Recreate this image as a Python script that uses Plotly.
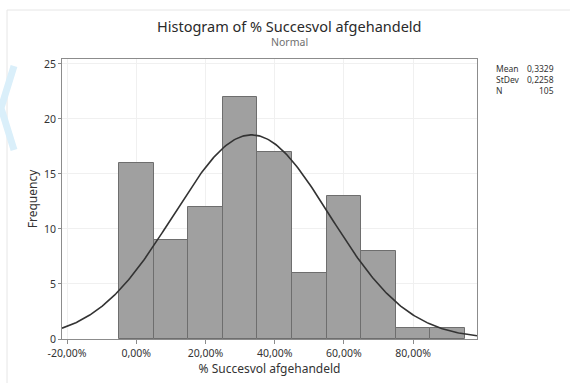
import numpy as np
import plotly.graph_objects as go

# ---- data ----
bin_centers = [0.0, 0.1, 0.2, 0.3, 0.4, 0.5, 0.6, 0.7, 0.8, 0.9]
frequencies = [16, 9, 12, 22, 17, 6, 13, 8, 1, 1]
bin_width = 0.1
stat_mean = 0.3329
stat_sd = 0.2258
stat_n = 105
x_ticks = [-0.2, 0.0, 0.2, 0.4, 0.6, 0.8]
x_ticktext = ["-20,00%", "0,00%", "20,00%", "40,00%", "60,00%", "80,00%"]
y_ticks = [0, 5, 10, 15, 20, 25]

x_range = [-0.2147, 0.9847]
y_range = [0, 25.45]

# normal curve from the summary statistics
xs = np.linspace(x_range[0], x_range[1], 300)
ys = stat_n * bin_width * np.exp(-0.5 * ((xs - stat_mean) / stat_sd) ** 2) / (stat_sd * np.sqrt(2 * np.pi))

FONT = "Noto Sans"
TXT = "#333333"
L, R, T, B, W, H = 62, 93, 59, 44, 570, 383
PW, PH = W - L - R, H - T - B

fig = go.Figure()
fig.add_trace(go.Bar(
    x=bin_centers, y=frequencies, width=[bin_width] * len(bin_centers),
    marker=dict(color="#A0A0A0", line=dict(color="#6E6E6E", width=1)),
    showlegend=False, hoverinfo="x+y",
))
fig.add_trace(go.Scatter(
    x=xs, y=ys, mode="lines", line=dict(color="#333333", width=1.6),
    showlegend=False, hoverinfo="skip",
))

fig.update_layout(
    width=W, height=H,
    margin=dict(l=L, r=R, t=T, b=B),
    paper_bgcolor="white", plot_bgcolor="white",
    font=dict(family=FONT, size=11, color=TXT),
    bargap=0,
    xaxis=dict(
        range=x_range, tickvals=x_ticks, ticktext=x_ticktext,
        showline=True, mirror=True, linecolor="#8C8C8C", linewidth=1,
        ticks="outside", ticklen=4, tickcolor="#8C8C8C",
        showgrid=True, gridcolor="#F0F0F0", zeroline=False,
        tickfont=dict(size=10.5, color=TXT),
        title=dict(text="% Succesvol afgehandeld", font=dict(size=12, color=TXT), standoff=3),
    ),
    yaxis=dict(
        range=y_range, tickvals=y_ticks,
        showline=True, mirror=True, linecolor="#8C8C8C", linewidth=1,
        ticks="outside", ticklen=3, tickcolor="#8C8C8C",
        showgrid=True, gridcolor="#F0F0F0", zeroline=False,
        tickfont=dict(size=10.5, color=TXT),
        title=dict(text="Frequency", font=dict(size=12, color=TXT), standoff=3),
    ),
)


def px_ann(text, x, y, size, color, xanchor="center"):
    fig.add_annotation(text=text, x=(x - L) / PW, y=(H - B - y) / PH,
                       xref="paper", yref="paper", showarrow=False, xanchor=xanchor, yanchor="middle",
                       font=dict(size=size, color=color, family=FONT))


def px_path(points):
    parts = []
    for i, (x, y) in enumerate(points):
        parts.append("%s %f %f" % ("M" if i == 0 else "L", (x - L) / PW, (H - B - y) / PH))
    return " ".join(parts)


px_ann("Histogram of % Succesvol afgehandeld", 289, 26, 14.5, "#2A2A2A")
px_ann("Normal", 289, 42, 10.5, "#707070")

stat_labels = ["Mean", "StDev", "N"]
stat_values = ["0,3329", "0,2258", str(stat_n)]
for i, (lab, val) in enumerate(zip(stat_labels, stat_values)):
    yy = 68 + i * 11
    px_ann(lab, 494, yy, 8.5, "#333333", xanchor="left")
    px_ann(val, 556, yy, 8.5, "#333333", xanchor="right")

# page decorations (frame line and pale chevron)
fig.add_shape(type="path", xref="paper", yref="paper", layer="below",
              path=px_path([(7, 383), (7, 10), (570, 10)]),
              line=dict(color="#E6E6E6", width=1))
fig.add_shape(type="path", xref="paper", yref="paper", layer="below",
              path=px_path([(14, 66), (1, 108), (14, 150)]),
              line=dict(color="#DAEFFA", width=7))

fig.write_html("out.html")
